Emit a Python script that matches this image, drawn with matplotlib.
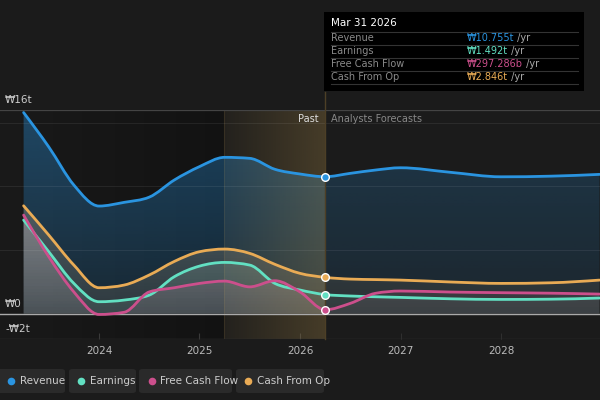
import numpy as np
import matplotlib
matplotlib.use('Agg')
import matplotlib.pyplot as plt
from matplotlib.patches import FancyBboxPatch, Rectangle, PathPatch
from matplotlib.path import Path
from matplotlib.lines import Line2D
from matplotlib.text import Annotation
from matplotlib.colors import to_rgb

# values in trillion won
past_x = [2023.25, 2023.5, 2023.75, 2024.0, 2024.25, 2024.5, 2024.75,
          2025.0, 2025.25, 2025.5, 2025.75, 2026.0, 2026.25]
revenue_past = [15.8, 13.1, 10.1, 8.45, 8.74, 9.15, 10.5, 11.55, 12.28, 12.2, 11.34, 10.97, 10.755]
earnings_past = [7.35, 4.86, 2.37, 0.93, 1.06, 1.45, 2.9, 3.73, 4.02, 3.81, 2.37, 1.85, 1.492]
fcf_past = [7.74, 4.47, 1.7, -0.07, 0.1, 1.7, 2.03, 2.37, 2.55, 2.1, 2.58, 1.7, 0.297]
cfo_past = [8.47, 6.17, 3.81, 2.03, 2.24, 3.03, 4.1, 4.86, 5.07, 4.73, 3.87, 3.16, 2.846]

fc_x = [2026.25, 2026.5, 2026.75, 2027.0, 2027.5, 2028.0, 2028.5, 2028.98]
revenue_fc = [10.755, 11.02, 11.28, 11.46, 11.1, 10.75, 10.8, 10.94]
earnings_fc = [1.492, 1.38, 1.32, 1.27, 1.16, 1.11, 1.13, 1.22]
fcf_fc = [0.297, 0.8, 1.59, 1.77, 1.69, 1.64, 1.6, 1.53]
cfo_fc = [2.846, 2.71, 2.67, 2.63, 2.48, 2.37, 2.42, 2.63]

names = ['Revenue', 'Earnings', 'Free Cash Flow', 'Cash From Op']
tooltip_values = ['₩10.755t', '₩1.492t', '₩297.286b', '₩2.846t']
colors = ['#2a94e0', '#62e0c2', '#cc4f8c', '#e9ab55']
year_ticks = [2024, 2025, 2026, 2027, 2028]
y_labels = [(16, '₩16t'), (0, '₩0'), (-2, '-₩2t')]

bg = '#1b1b1b'
now_x = 2026.25
band_start = 2025.24
xmin, xmax = 2023.015, 2028.985
ymin, ymax = -2, 16

x = np.array(past_x + fc_x[1:])
series = [np.array(revenue_past + revenue_fc[1:]),
          np.array(earnings_past + earnings_fc[1:]),
          np.array(fcf_past + fcf_fc[1:]),
          np.array(cfo_past + cfo_fc[1:])]


def monotone_verts(xs, ys):
    # monotone cubic (like d3 curveMonotoneX) written as bezier segments
    n = len(xs)
    h = np.diff(xs)
    s = np.diff(ys) / h
    t = np.zeros(n)
    for i in range(1, n - 1):
        p = (s[i - 1] * h[i] + s[i] * h[i - 1]) / (h[i - 1] + h[i])
        t[i] = (np.sign(s[i - 1]) + np.sign(s[i])) * min(abs(s[i - 1]), abs(s[i]), 0.5 * abs(p))
    t[0] = (3 * s[0] - t[1]) / 2
    t[-1] = (3 * s[-1] - t[-2]) / 2
    verts = [(xs[0], ys[0])]
    codes = [Path.MOVETO]
    for i in range(n - 1):
        d = h[i] / 3
        verts += [(xs[i] + d, ys[i] + d * t[i]), (xs[i + 1] - d, ys[i + 1] - d * t[i + 1]),
                  (xs[i + 1], ys[i + 1])]
        codes += [Path.CURVE4] * 3
    return verts, codes


fig = plt.figure(figsize=(6, 4), dpi=100, facecolor=bg)
ax = fig.add_axes([0, 1 - 339 / 400, 1, 229 / 400])
ax.set_facecolor(bg)
for sp in ax.spines.values():
    sp.set_visible(False)


def grad_fill(verts, codes, color, a_bot, a_top, z):
    # vertical gradient clipped to the area between the curve and zero
    v = verts + [(verts[-1][0], 0), (verts[0][0], 0), verts[0]]
    c = codes + [Path.LINETO, Path.LINETO, Path.CLOSEPOLY]
    n = 200
    rgba = np.zeros((n, 1, 4))
    rgba[:, 0, :3] = to_rgb(color)
    rgba[:, 0, 3] = np.linspace(a_bot, a_top, n)
    img = ax.imshow(rgba, extent=[xmin, xmax, ymin, ymax], origin='lower',
                    aspect='auto', zorder=z, interpolation='bilinear')
    img.set_clip_path(Path(v, c), transform=ax.transData)


def hgrad(x0, x1, color, a0, a1, z):
    rgba = np.zeros((1, 100, 4))
    rgba[0, :, :3] = to_rgb(color)
    rgba[0, :, 3] = np.linspace(a0, a1, 100)
    ax.imshow(rgba, extent=[x0, x1, ymin, ymax], origin='lower',
              aspect='auto', zorder=z, interpolation='bilinear')


curves = [monotone_verts(x, y) for y in series]

# darker past background
hgrad(xmin, band_start, '#000000', 0.05, 0.32, 0.5)

# fills
grad_fill(*curves[0], colors[0], 0.12, 0.38, 1)
for i in (3, 1, 2):
    light = 0.45 * np.array(to_rgb(colors[i])) + 0.55 * np.array([0.92, 0.88, 0.84])
    grad_fill(*curves[i], light, 0.07, 0.36, 1.5)

# last year band before the forecast
hgrad(band_start, now_x, '#c8a050', 0.05, 0.25, 2.5)
ax.axvline(band_start, color='#c8a050', alpha=0.12, lw=0.8, zorder=2.5)
# forecast area a bit dimmer
ax.add_patch(Rectangle((now_x, ymin), xmax - now_x, ymax - ymin,
                       facecolor=bg, alpha=0.35, lw=0, zorder=2.6))

# grid
for g in (5, 10, 15):
    ax.axhline(g, color='#ffffff', alpha=0.07, lw=0.8, zorder=3)
ax.axhline(16, color='#444444', lw=0.9, zorder=3)
ax.axhline(0, color='#aaaaaa', lw=1.0, zorder=3)
ax.axhline(-2, color='#333333', lw=1.0, zorder=3)
ax.axvline(now_x, ymin=0, ymax=(339 - 92) / 229, color='#4d3f26', lw=1,
           clip_on=False, zorder=3)

# lines and markers
for (v, c_), y, col in zip(curves, series, colors):
    ax.add_patch(PathPatch(Path(v, c_), fill=False, edgecolor=col, lw=2,
                           capstyle='round', joinstyle='round', zorder=4))
    ax.plot([now_x], [y[len(past_x) - 1]], 'o', ms=5.5, mfc=col, mec='white', mew=1, zorder=5)

ax.set_xlim(xmin, xmax)
ax.set_ylim(ymin, ymax)
ax.set_yticks([])
ax.set_xticks(year_ticks)
ax.set_xticklabels([str(t) for t in year_ticks])
ax.tick_params(axis='x', direction='in', length=4, color='#3a3a3a',
               labelcolor='#bbbbbb', labelsize=7.5, pad=5)

for val, lab in y_labels:
    ax.annotate(lab, xy=(0, val), xycoords=('axes fraction', 'data'),
                xytext=(5, 10), textcoords='offset pixels', va='center', ha='left',
                color='#cccccc', fontsize=7.5, annotation_clip=False, zorder=6)

ax.annotate('Past', xy=(now_x, 15.3), xytext=(-7, 0), textcoords='offset pixels',
            ha='right', va='center', color='#dddddd', fontsize=7, zorder=6)
ax.annotate('Analysts Forecasts', xy=(now_x, 15.3), xytext=(6, 0), textcoords='offset pixels',
            ha='left', va='center', color='#888888', fontsize=7, zorder=6)

# tooltip box
W, H = 600.0, 400.0
fig.add_artist(Rectangle((324 / W, 1 - 91 / H), 260 / W, 79 / H,
                         transform=fig.transFigure, facecolor='#000000', lw=0))
fig.text(331 / W, 1 - 23 / H, 'Mar 31 2026', color='#ffffff', fontsize=7.5,
         va='center', ha='left')
for yy in (31.5, 44.7, 57.9, 71.1, 84.3):
    fig.add_artist(Line2D([331 / W, 578 / W], [1 - yy / H, 1 - yy / H],
                          transform=fig.transFigure, color='#333333', lw=0.8))
for k, (nm, v, c) in enumerate(zip(names, tooltip_values, colors)):
    yy = 1 - (37.8 + 13.2 * k) / H
    fig.text(331 / W, yy, nm, color='#8a8a8a', fontsize=7, va='center', ha='left')
    t = fig.text(467 / W, yy, v, color=c, fontsize=7, va='center', ha='left')
    fig.add_artist(Annotation(' /yr', xy=(1, 0.5), xycoords=t, va='center', ha='left',
                              color='#aaaaaa', fontsize=7, zorder=3))

# legend pills
pills = [(-6, 65), (69, 136), (139, 232), (236, 324)]
dots = [11, 81, 152, 248]
labels_x = [20, 90, 160, 257]
for (x0, x1), dx, lx, nm, c in zip(pills, dots, labels_x, names, colors):
    fig.add_artist(FancyBboxPatch((x0 / W, 1 - 393 / H), (x1 - x0) / W, 24 / H,
                                  boxstyle='round,pad=0,rounding_size=0.006',
                                  transform=fig.transFigure, facecolor='#2a2a2a',
                                  edgecolor='none'))
    fig.add_artist(Line2D([dx / W], [1 - 381 / H], marker='o', ms=5.5, color=c,
                          mec='none', transform=fig.transFigure))
    fig.text(lx / W, 1 - 381 / H, nm, color='#cccccc', fontsize=7.5, va='center', ha='left')

fig.savefig('out.png', dpi=100, facecolor=bg)
